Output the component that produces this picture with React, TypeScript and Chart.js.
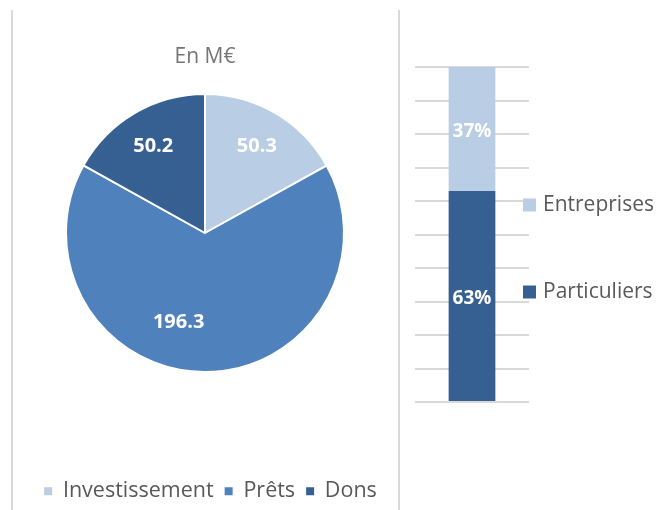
import React, { useEffect, useRef } from "react";
import { Chart, registerables } from "chart.js";

Chart.register(...registerables);

// ---- Data ----
const pieTitle = "En M€";
const pieCategories = ["Investissement", "Prêts", "Dons"];
const pieValues = [50.3, 196.3, 50.2];
const pieColors = ["#b9cde5", "#4f81bd", "#376092"];

const barCategories = [""];
const barSeriesNames = ["Particuliers", "Entreprises"];
const particuliersValues = [63];
const entreprisesValues = [37];
const barColors = ["#376092", "#b9cde5"];
const barAxisMin = 0;
const barAxisMax = 100;
const barAxisStep = 10;

const FONT = "'Open Sans', sans-serif";
const TEXT_GRAY = "#595959";
const TITLE_GRAY = "#757575";
const GRID = "#d9d9d9";

const pieLabelPlugin = {
  id: "pieLabels",
  afterDatasetsDraw(chart: any) {
    const ctx = chart.ctx;
    const meta = chart.getDatasetMeta(0);
    const place = [
      { f: 0.735, a: 0 },
      { f: 0.665, a: 16.5 },
      { f: 0.735, a: 0 },
    ];
    ctx.save();
    ctx.font = `bold 20px ${FONT}`;
    ctx.fillStyle = "#ffffff";
    ctx.textAlign = "center";
    ctx.textBaseline = "middle";
    meta.data.forEach((arc: any, i: number) => {
      const { x, y, startAngle, endAngle, outerRadius } = arc.getProps(
        ["x", "y", "startAngle", "endAngle", "outerRadius"],
        true
      );
      const p = place[i] || { f: 0.7, a: 0 };
      const mid = (startAngle + endAngle) / 2 + (p.a * Math.PI) / 180;
      const r = outerRadius * p.f;
      const v = chart.data.datasets[0].data[i];
      ctx.fillText(String(v), x + r * Math.cos(mid), y + r * Math.sin(mid) + 1);
    });
    ctx.restore();
  },
};

const barLabelPlugin = {
  id: "barLabels",
  afterDatasetsDraw(chart: any) {
    const ctx = chart.ctx;
    ctx.save();
    ctx.font = `bold 19px ${FONT}`;
    ctx.fillStyle = "#ffffff";
    ctx.textAlign = "center";
    ctx.textBaseline = "middle";
    chart.data.datasets.forEach((ds: any, di: number) => {
      const meta = chart.getDatasetMeta(di);
      meta.data.forEach((bar: any, i: number) => {
        const { x, y, base } = bar.getProps(["x", "y", "base"], true);
        ctx.fillText(`${ds.data[i]}%`, x, (y + base) / 2 + 3);
      });
    });
    ctx.restore();
  },
};

const barLegendPlugin = {
  id: "barLegend",
  afterDraw(chart: any) {
    const ctx = chart.ctx;
    const area = chart.chartArea;
    const items = chart.data.datasets
      .map((ds: any) => ({ text: ds.label, color: ds.backgroundColor }))
      .reverse();
    ctx.save();
    ctx.font = `21px ${FONT}`;
    ctx.textAlign = "left";
    ctx.textBaseline = "middle";
    items.forEach((it: any, k: number) => {
      const cy = area.top + 138 + k * 87;
      const bx = area.right - 6;
      ctx.fillStyle = it.color;
      ctx.fillRect(bx, cy - 6.5, 13, 13);
      ctx.fillStyle = TEXT_GRAY;
      ctx.fillText(it.text, bx + 20, cy);
    });
    ctx.restore();
  },
};

function PieChart() {
  const ref = useRef<HTMLCanvasElement>(null);
  useEffect(() => {
    if (!ref.current) return;
    const chart = new Chart(ref.current, {
      type: "pie",
      data: {
        labels: pieCategories,
        datasets: [
          {
            data: pieValues,
            backgroundColor: pieColors,
            borderColor: "#ffffff",
            borderWidth: 2,
            radius: 139,
          },
        ],
      },
      options: {
        responsive: false,
        animation: false,
        layout: { padding: 0 },
        plugins: {
          title: {
            display: true,
            fullSize: false,
            text: pieTitle,
            color: TITLE_GRAY,
            font: { family: FONT, size: 21, weight: "normal" },
            padding: { top: 44.4, bottom: 25.4 },
          },
          subtitle: {
            display: true,
            position: "right",
            text: "",
            font: { family: FONT, size: 5 },
            padding: { top: 5, bottom: 0 },
          },
          legend: {
            display: true,
            position: "bottom",
            title: {
              display: true,
              text: "",
              font: { family: FONT, size: 10 },
              padding: { top: 86.5, bottom: 0 },
            },
            labels: {
              boxWidth: 8,
              boxHeight: 8,
              padding: 11,
              color: TEXT_GRAY,
              font: { family: FONT, size: 21.5 },
              generateLabels: (c: any) =>
                (Chart as any).overrides.pie.plugins.legend.labels
                  .generateLabels(c)
                  .map((l: any) => ({ ...l, lineWidth: 0 })),
            },
          },
          tooltip: { enabled: false },
        },
      } as any,
      plugins: [pieLabelPlugin],
    });
    return () => chart.destroy();
  }, []);
  return (
    <canvas
      ref={ref}
      width={397}
      height={512}
      style={{ position: "absolute", left: 12, top: 0 }}
    />
  );
}

function BarChart() {
  const ref = useRef<HTMLCanvasElement>(null);
  useEffect(() => {
    if (!ref.current) return;
    const chart = new Chart(ref.current, {
      type: "bar",
      data: {
        labels: barCategories,
        datasets: [
          {
            label: barSeriesNames[0],
            data: particuliersValues,
            backgroundColor: barColors[0],
            categoryPercentage: 1,
            barPercentage: 0.41,
          },
          {
            label: barSeriesNames[1],
            data: entreprisesValues,
            backgroundColor: barColors[1],
            categoryPercentage: 1,
            barPercentage: 0.41,
          },
        ],
      },
      options: {
        responsive: false,
        animation: false,
        layout: { padding: { left: 15, right: 131, top: 67, bottom: 108 } },
        scales: {
          x: { stacked: true, display: false },
          y: {
            stacked: true,
            min: barAxisMin,
            max: barAxisMax,
            ticks: { display: false, stepSize: barAxisStep },
            grid: { color: GRID, lineWidth: 2, drawTicks: false },
            border: { display: false },
          },
        },
        plugins: {
          legend: { display: false },
          tooltip: { enabled: false },
        },
      } as any,
      plugins: [barLabelPlugin, barLegendPlugin],
    });
    return () => chart.destroy();
  }, []);
  return (
    <canvas
      ref={ref}
      width={260}
      height={510}
      style={{ position: "absolute", left: 400, top: 0 }}
    />
  );
}

export default function App() {
  return (
    <div
      style={{
        position: "absolute",
        left: 0,
        top: 0,
        width: 660,
        height: 510,
        overflow: "hidden",
        background: "#ffffff",
      }}
    >
      <div
        style={{
          position: "absolute",
          left: 11,
          top: 10,
          width: 2,
          height: 500,
          background: GRID,
        }}
      />
      <div
        style={{
          position: "absolute",
          left: 398,
          top: 10,
          width: 2,
          height: 500,
          background: GRID,
        }}
      />
      <PieChart />
      <BarChart />
    </div>
  );
}
